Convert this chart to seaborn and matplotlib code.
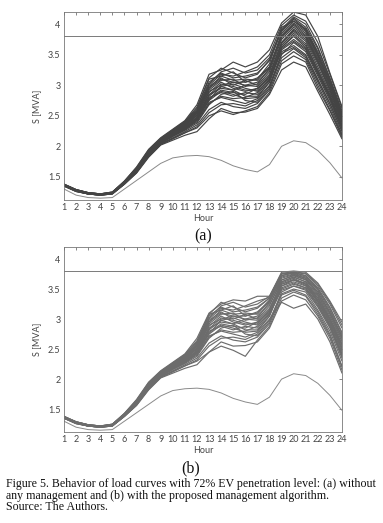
import numpy as np
import pandas as pd
import matplotlib
matplotlib.use("Agg")
import matplotlib.pyplot as plt
import seaborn as sns

hours = list(range(1, 25))
limit = 3.8

base_load = [1.30, 1.20, 1.16, 1.15, 1.16, 1.30, 1.44, 1.58, 1.72, 1.81, 1.84, 1.85,
             1.83, 1.77, 1.68, 1.62, 1.58, 1.70, 2.00, 2.09, 2.06, 1.93, 1.73, 1.48]

curves_a = [
    [1.37,1.28,1.23,1.21,1.24,1.41,1.62,1.90,2.10,2.22,2.35,2.55,2.95,3.10,3.05,3.00,3.05,3.25,3.80,4.00,3.85,3.45,3.00,2.45],
    [1.38,1.29,1.24,1.22,1.25,1.43,1.66,1.95,2.14,2.28,2.42,2.68,3.18,3.25,3.38,3.30,3.38,3.58,4.02,4.20,4.15,3.80,3.20,2.65],
    [1.35,1.26,1.22,1.20,1.22,1.38,1.56,1.82,2.02,2.10,2.18,2.24,2.45,2.62,2.55,2.56,2.62,2.85,3.25,3.38,3.30,2.90,2.52,2.12],
    [1.36,1.27,1.23,1.21,1.23,1.40,1.60,1.88,2.08,2.20,2.30,2.45,2.75,2.90,2.85,2.78,2.80,3.05,3.60,3.75,3.60,3.20,2.80,2.30],
    [1.37,1.28,1.23,1.21,1.24,1.42,1.63,1.91,2.10,2.25,2.38,2.60,3.05,3.20,3.12,3.15,3.20,3.40,3.90,4.10,3.95,3.60,3.10,2.55],
    [1.36,1.27,1.22,1.20,1.23,1.39,1.59,1.86,2.06,2.18,2.28,2.40,2.70,2.82,2.78,2.80,2.88,3.10,3.55,3.65,3.50,3.10,2.70,2.25],
    [1.37,1.28,1.23,1.21,1.24,1.41,1.61,1.89,2.09,2.23,2.34,2.52,2.88,3.05,2.95,2.90,2.95,3.15,3.70,3.90,3.75,3.35,2.92,2.40],
    [1.38,1.29,1.24,1.22,1.25,1.42,1.64,1.93,2.12,2.26,2.40,2.62,3.10,3.15,3.22,3.05,3.10,3.35,3.95,4.05,3.90,3.50,3.05,2.50],
    [1.35,1.27,1.22,1.20,1.22,1.38,1.57,1.84,2.04,2.14,2.24,2.35,2.60,2.72,2.65,2.62,2.70,2.92,3.40,3.55,3.42,3.00,2.60,2.18],
    [1.36,1.28,1.23,1.21,1.23,1.40,1.60,1.87,2.07,2.20,2.32,2.48,2.82,2.98,3.02,2.95,2.90,3.10,3.65,3.85,3.68,3.25,2.85,2.35],
    [1.37,1.28,1.24,1.22,1.24,1.41,1.62,1.90,2.10,2.24,2.36,2.56,2.98,3.12,3.00,3.08,3.00,3.22,3.75,3.95,3.80,3.40,2.95,2.42],
    [1.36,1.27,1.22,1.21,1.23,1.39,1.58,1.85,2.05,2.16,2.26,2.38,2.68,2.85,2.90,2.75,2.72,2.95,3.50,3.70,3.55,3.15,2.75,2.28],
    [1.37,1.28,1.23,1.21,1.24,1.42,1.63,1.92,2.11,2.25,2.39,2.58,3.02,3.22,3.28,3.20,3.25,3.45,3.92,4.12,4.00,3.62,3.12,2.58],
    [1.36,1.27,1.23,1.21,1.23,1.40,1.60,1.88,2.08,2.19,2.30,2.44,2.78,2.92,2.88,2.85,2.95,3.12,3.62,3.80,3.62,3.22,2.82,2.32],
    [1.35,1.26,1.22,1.20,1.22,1.39,1.58,1.84,2.03,2.12,2.22,2.32,2.55,2.68,2.70,2.66,2.75,2.98,3.45,3.60,3.45,3.05,2.65,2.20],
    [1.37,1.29,1.24,1.22,1.24,1.41,1.62,1.90,2.09,2.22,2.35,2.54,2.92,3.08,3.10,2.98,3.02,3.28,3.82,4.02,3.88,3.48,3.02,2.48],
    [1.36,1.28,1.23,1.21,1.23,1.40,1.61,1.88,2.07,2.21,2.33,2.50,2.85,2.95,2.92,3.00,2.98,3.18,3.68,3.88,3.72,3.30,2.88,2.38],
    [1.37,1.28,1.23,1.21,1.24,1.41,1.62,1.91,2.10,2.23,2.37,2.57,3.00,3.18,3.15,3.22,3.30,3.50,3.98,4.15,4.05,3.70,3.18,2.62],
    [1.36,1.27,1.22,1.20,1.23,1.39,1.59,1.86,2.05,2.17,2.27,2.42,2.72,2.80,2.75,2.70,2.78,3.00,3.52,3.62,3.48,3.08,2.70,2.24],
    [1.37,1.28,1.23,1.21,1.24,1.41,1.61,1.89,2.09,2.22,2.34,2.51,2.90,3.00,3.05,3.05,3.12,3.30,3.78,3.98,3.82,3.42,2.98,2.45],
    [1.36,1.27,1.23,1.21,1.23,1.40,1.60,1.87,2.06,2.18,2.29,2.46,2.80,2.88,2.82,2.88,2.85,3.08,3.58,3.72,3.58,3.18,2.78,2.30],
    [1.38,1.29,1.24,1.22,1.25,1.43,1.65,1.94,2.13,2.27,2.41,2.64,3.12,3.28,3.20,3.12,3.18,3.42,3.88,4.08,3.92,3.55,3.08,2.52],
    [1.35,1.26,1.22,1.20,1.22,1.38,1.57,1.83,2.03,2.13,2.22,2.30,2.50,2.58,2.52,2.58,2.65,2.88,3.35,3.48,3.38,2.95,2.58,2.15],
    [1.36,1.27,1.22,1.21,1.23,1.39,1.59,1.86,2.06,2.17,2.28,2.43,2.76,2.98,2.92,2.82,2.82,3.05,3.62,3.82,3.65,3.25,2.82,2.33],
    [1.37,1.28,1.23,1.21,1.24,1.41,1.62,1.90,2.10,2.24,2.37,2.55,2.95,3.15,3.08,3.10,3.08,3.30,3.85,4.05,3.92,3.52,3.05,2.50],
    [1.36,1.27,1.23,1.21,1.23,1.40,1.61,1.88,2.08,2.20,2.31,2.47,2.84,3.02,2.98,2.92,2.92,3.15,3.70,3.92,3.78,3.38,2.92,2.40],
]

curves_b = [
    [1.37,1.28,1.23,1.21,1.24,1.41,1.62,1.90,2.10,2.22,2.35,2.55,2.95,3.10,3.05,3.00,3.05,3.25,3.62,3.70,3.62,3.35,3.00,2.55],
    [1.38,1.29,1.24,1.22,1.25,1.43,1.66,1.95,2.14,2.28,2.42,2.68,3.10,3.25,3.32,3.30,3.38,3.38,3.78,3.80,3.78,3.60,3.30,2.95],
    [1.35,1.26,1.22,1.20,1.22,1.38,1.56,1.82,2.02,2.10,2.18,2.24,2.45,2.62,2.55,2.56,2.62,2.85,3.30,3.40,3.32,3.05,2.68,2.15],
    [1.36,1.27,1.23,1.21,1.23,1.40,1.60,1.88,2.08,2.20,2.30,2.45,2.75,2.90,2.85,2.78,2.80,3.05,3.52,3.60,3.52,3.25,2.90,2.40],
    [1.37,1.28,1.23,1.21,1.24,1.42,1.63,1.91,2.10,2.25,2.38,2.60,3.05,3.20,3.12,3.15,3.20,3.35,3.72,3.78,3.72,3.50,3.18,2.75],
    [1.36,1.27,1.22,1.20,1.23,1.39,1.59,1.86,2.06,2.18,2.28,2.40,2.70,2.82,2.78,2.80,2.88,3.10,3.48,3.55,3.48,3.20,2.85,2.35],
    [1.37,1.28,1.23,1.21,1.24,1.41,1.61,1.89,2.09,2.23,2.34,2.52,2.88,3.05,2.95,2.90,2.95,3.15,3.60,3.68,3.58,3.30,2.95,2.50],
    [1.38,1.29,1.24,1.22,1.25,1.42,1.64,1.93,2.12,2.26,2.40,2.62,3.08,3.15,3.22,3.05,3.10,3.32,3.75,3.76,3.70,3.48,3.15,2.70],
    [1.35,1.27,1.22,1.20,1.22,1.38,1.57,1.84,2.04,2.14,2.24,2.35,2.60,2.72,2.65,2.62,2.70,2.92,3.40,3.48,3.40,3.12,2.75,2.22],
    [1.36,1.28,1.23,1.21,1.23,1.40,1.60,1.87,2.07,2.20,2.32,2.48,2.82,2.98,3.02,2.95,2.90,3.10,3.55,3.65,3.60,3.32,2.98,2.52],
    [1.37,1.28,1.24,1.22,1.24,1.41,1.62,1.90,2.10,2.24,2.36,2.56,2.98,3.12,3.00,3.08,3.00,3.22,3.65,3.72,3.65,3.40,3.05,2.62],
    [1.36,1.27,1.22,1.21,1.23,1.39,1.58,1.85,2.05,2.16,2.26,2.38,2.68,2.85,2.90,2.75,2.72,2.95,3.45,3.55,3.50,3.22,2.88,2.42],
    [1.37,1.28,1.23,1.21,1.24,1.42,1.63,1.92,2.11,2.25,2.39,2.58,3.02,3.22,3.28,3.20,3.25,3.38,3.75,3.78,3.75,3.55,3.25,2.85],
    [1.36,1.27,1.23,1.21,1.23,1.40,1.60,1.88,2.08,2.19,2.30,2.44,2.78,2.92,2.88,2.85,2.95,3.12,3.55,3.62,3.55,3.28,2.92,2.45],
    [1.35,1.26,1.22,1.20,1.22,1.39,1.58,1.84,2.03,2.12,2.22,2.32,2.55,2.68,2.70,2.66,2.75,2.98,3.42,3.50,3.45,3.15,2.80,2.30],
    [1.37,1.29,1.24,1.22,1.24,1.41,1.62,1.90,2.09,2.22,2.35,2.54,2.92,3.08,3.10,2.98,3.02,3.28,3.68,3.74,3.68,3.42,3.08,2.65],
    [1.36,1.28,1.23,1.21,1.23,1.40,1.61,1.88,2.07,2.21,2.33,2.50,2.85,2.95,2.92,3.00,2.98,3.18,3.58,3.66,3.58,3.35,3.00,2.58],
    [1.37,1.28,1.23,1.21,1.24,1.41,1.62,1.91,2.10,2.23,2.37,2.57,3.00,3.18,3.15,3.22,3.30,3.36,3.76,3.79,3.76,3.58,3.28,2.90],
    [1.36,1.27,1.22,1.20,1.23,1.39,1.59,1.86,2.05,2.17,2.27,2.42,2.72,2.80,2.75,2.70,2.78,3.00,3.28,3.18,3.25,3.00,2.62,2.10],
    [1.37,1.28,1.23,1.21,1.24,1.41,1.61,1.89,2.09,2.22,2.34,2.51,2.90,3.00,3.05,3.05,3.12,3.30,3.65,3.73,3.66,3.45,3.10,2.68],
    [1.36,1.27,1.23,1.21,1.23,1.40,1.60,1.87,2.06,2.18,2.29,2.46,2.80,2.88,2.82,2.88,2.85,3.08,3.50,3.58,3.52,3.25,2.88,2.38],
    [1.38,1.29,1.24,1.22,1.25,1.43,1.65,1.94,2.13,2.27,2.41,2.64,3.08,3.28,3.20,3.12,3.18,3.35,3.72,3.77,3.72,3.52,3.20,2.78],
    [1.35,1.26,1.22,1.20,1.22,1.38,1.57,1.83,2.03,2.13,2.22,2.30,2.45,2.55,2.48,2.38,2.65,2.88,3.35,3.45,3.38,3.08,2.72,2.20],
    [1.36,1.27,1.22,1.21,1.23,1.39,1.59,1.86,2.06,2.17,2.28,2.43,2.76,2.98,2.92,2.82,2.82,3.05,3.58,3.65,3.56,3.30,2.95,2.48],
    [1.37,1.28,1.23,1.21,1.24,1.41,1.62,1.90,2.10,2.24,2.37,2.55,2.95,3.15,3.08,3.10,3.08,3.30,3.70,3.75,3.68,3.45,3.12,2.72],
    [1.36,1.27,1.23,1.21,1.23,1.40,1.61,1.88,2.08,2.20,2.31,2.47,2.84,3.02,2.98,2.92,2.92,3.15,3.62,3.70,3.62,3.38,3.02,2.58],
]

y_ticks = [1.5, 2, 2.5, 3, 3.5, 4]
y_tick_labels = ["1.5", "2", "2.5", "3", "3.5", "4"]
panel_labels = ["(a)", "(b)"]
caption = ["Figure 5. Behavior of load curves with 72% EV penetration level: (a) without",
           "any management and (b) with the proposed management algorithm.",
           "Source: The Authors."]


def to_long(curves):
    rows = []
    for i, c in enumerate(curves):
        for h, v in zip(hours, c):
            rows.append({"Hour": h, "S": v, "curve": i})
    return pd.DataFrame(rows)


sns.set_style("white")
plt.rcParams.update({
    "xtick.direction": "in", "ytick.direction": "in",
    "xtick.major.size": 2.2, "ytick.major.size": 2.2,
    "xtick.major.width": 0.5, "ytick.major.width": 0.5,
    "xtick.top": True, "ytick.right": True,
    "xtick.color": "#555555", "ytick.color": "#555555",
})

fig = plt.figure(figsize=(3.83, 5.23), dpi=100)
W, H = 383, 523
ax_a = fig.add_axes([64 / W, 1 - 200 / H, (342 - 64) / W, (200 - 12) / H])
ax_b = fig.add_axes([64 / W, 1 - 432 / H, (342 - 64) / W, (432 - 247) / H])

tick_font = {"family": "Lato", "size": 6.5, "color": "#444444"}

for ax, curves, col, lab in [(ax_a, curves_a, "#444444", panel_labels[0]),
                             (ax_b, curves_b, "#6c6c6c", panel_labels[1])]:
    df = to_long(curves)
    sns.lineplot(data=df, x="Hour", y="S", units="curve", estimator=None,
                 color=col, lw=0.85, ax=ax, legend=False)
    sns.lineplot(x=hours, y=base_load, color="#8a8a8a", lw=0.7, ax=ax)
    ax.axhline(limit, color="#7a7a7a", lw=0.7)
    ax.set_xlim(1, 24)
    ax.set_ylim(1.12, 4.2)
    ax.set_xticks(hours)
    ax.set_xticklabels([str(h) for h in hours], fontdict=tick_font)
    ax.set_yticks(y_ticks)
    ax.set_yticklabels(y_tick_labels, fontdict=tick_font)
    ax.tick_params(axis="both", pad=2.5)
    ax.set_xlabel("Hour", fontdict=tick_font, labelpad=1)
    ax.set_ylabel("S [MVA]", fontdict=tick_font, labelpad=5)
    for s in ax.spines.values():
        s.set_color("#777777")
        s.set_linewidth(0.6)

fig.text(203 / W, 1 - 236 / H, panel_labels[0], ha="center", va="center",
         family="Liberation Serif", fontsize=11.5, color="#111111")
fig.text(191 / W, 1 - 468 / H, panel_labels[1], ha="center", va="center",
         family="Liberation Serif", fontsize=11.5, color="#111111")
for i, line in enumerate(caption):
    fig.text(6 / W, 1 - (484 + 11.7 * i) / H, line, ha="left", va="center",
             family="Liberation Serif", fontsize=8.6, color="#111111")

fig.savefig("out.png", dpi=100)
